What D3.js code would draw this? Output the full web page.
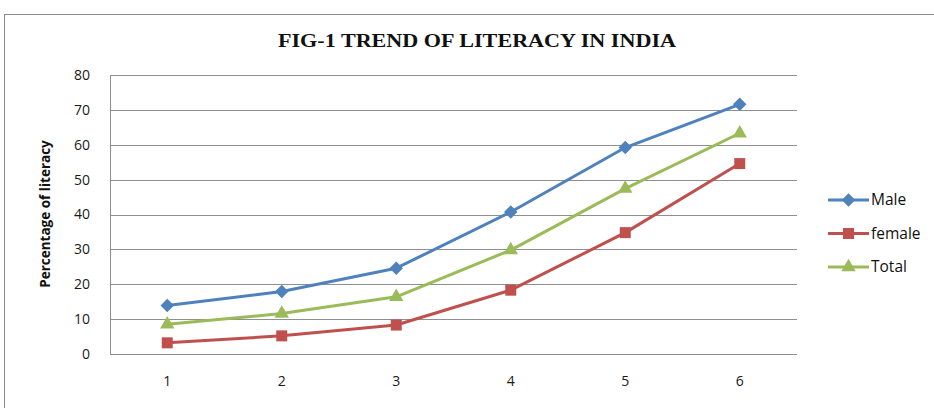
<!DOCTYPE html>
<html>
<head>
<meta charset="utf-8">
<script src="https://d3js.org/d3.v7.min.js"></script>
<style>
  body { margin: 0; background: #fff; }
  svg { display: block; }
</style>
</head>
<body>
<div id="chart"></div>
<script>
const categories = ["1", "2", "3", "4", "5", "6"];
const male = [13.9, 17.9, 24.6, 40.7, 59.2, 71.6];
const female = [3.2, 5.2, 8.3, 18.3, 34.8, 54.6];
const total = [8.5, 11.6, 16.4, 29.8, 47.4, 63.3];
const yTicks = [0, 10, 20, 30, 40, 50, 60, 70, 80];

// excel style diamond: a square turned 45 degrees
const symbolRhomb = {
  draw(ctx, size) {
    const r = Math.sqrt(size / 2);
    ctx.moveTo(0, -r);
    ctx.lineTo(r, 0);
    ctx.lineTo(0, r);
    ctx.lineTo(-r, 0);
    ctx.closePath();
  }
};

const series = [
  { name: "Male", values: male, color: "#4F81BD", marker: symbolRhomb, size: 90 },
  { name: "female", values: female, color: "#C0504D", marker: d3.symbolSquare, size: 121 },
  { name: "Total", values: total, color: "#9BBB59", marker: d3.symbolTriangle, size: 90 }
];

const W = 934, H = 408;
const plot = { left: 110, right: 797, top: 75, bottom: 354 };
const labelFont = "'Open Sans', sans-serif";

const svg = d3.select("#chart").append("svg")
  .attr("width", W)
  .attr("height", H);

svg.append("rect").attr("width", W).attr("height", H).attr("fill", "#fff");

// outer chart frame (runs off the right and bottom)
svg.append("rect")
  .attr("x", 4.5).attr("y", 14.5)
  .attr("width", 1000).attr("height", 1000)
  .attr("fill", "none")
  .attr("stroke", "#8c8c8c")
  .attr("stroke-width", 1);

const x = d3.scaleBand().domain(categories).range([plot.left, plot.right]);
const y = d3.scaleLinear().domain([0, 80]).range([plot.bottom, plot.top]);

// gridlines
svg.append("g")
  .selectAll("line")
  .data(yTicks)
  .join("line")
  .attr("x1", plot.left).attr("x2", plot.right)
  .attr("y1", d => Math.round(y(d)) + 0.5)
  .attr("y2", d => Math.round(y(d)) + 0.5)
  .attr("stroke", "#8f8f8f")
  .attr("stroke-width", 1);

// left axis line
svg.append("line")
  .attr("x1", plot.left + 0.5).attr("x2", plot.left + 0.5)
  .attr("y1", plot.top).attr("y2", plot.bottom)
  .attr("stroke", "#8f8f8f");

// y axis labels
const yAxis = d3.axisLeft(y).tickValues(yTicks).tickSize(0).tickPadding(20);
svg.append("g")
  .attr("transform", `translate(${plot.left},0)`)
  .call(yAxis)
  .call(g => g.select(".domain").remove())
  .selectAll("text")
  .attr("font-family", labelFont)
  .attr("font-size", 14)
  .attr("fill", "#1a1a1a");

// x axis labels
const xAxis = d3.axisBottom(x).tickSize(0).tickPadding(22);
svg.append("g")
  .attr("transform", `translate(0,${plot.bottom})`)
  .call(xAxis)
  .call(g => g.select(".domain").remove())
  .selectAll("text")
  .attr("font-family", labelFont)
  .attr("font-size", 14)
  .attr("fill", "#1a1a1a");

// title
svg.append("text")
  .attr("x", 477).attr("y", 47)
  .attr("text-anchor", "middle")
  .attr("font-family", "'Liberation Serif', 'Times New Roman', serif")
  .attr("font-weight", "bold")
  .attr("font-size", 19)
  .attr("textLength", 398)
  .attr("lengthAdjust", "spacingAndGlyphs")
  .attr("fill", "#111")
  .text("FIG-1 TREND OF LITERACY IN INDIA");

// y axis title
svg.append("text")
  .attr("transform", "translate(50,214) rotate(-90)")
  .attr("text-anchor", "middle")
  .attr("font-family", labelFont)
  .attr("font-weight", "bold")
  .attr("font-size", 13.5)
  .attr("fill", "#111")
  .text("Percentage of literacy");

const line = d3.line()
  .x((d, i) => x(categories[i]) + x.bandwidth() / 2)
  .y(d => y(d));

series.forEach(s => {
  svg.append("path")
    .datum(s.values)
    .attr("d", line)
    .attr("fill", "none")
    .attr("stroke", s.color)
    .attr("stroke-width", 3)
    .attr("stroke-linejoin", "round");

  svg.append("g")
    .selectAll("path")
    .data(s.values)
    .join("path")
    .attr("transform", (d, i) => `translate(${x(categories[i]) + x.bandwidth() / 2},${y(d)})`)
    .attr("d", d3.symbol().type(s.marker).size(s.size))
    .attr("fill", s.color);
});

// legend
const legend = svg.append("g").attr("transform", "translate(828,200)");
series.forEach((s, i) => {
  const g = legend.append("g").attr("transform", `translate(0,${i * 33.5})`);
  g.append("line")
    .attr("x1", 0).attr("x2", 41)
    .attr("stroke", s.color).attr("stroke-width", 3);
  g.append("path")
    .attr("transform", "translate(20.5,0)")
    .attr("d", d3.symbol().type(s.marker).size(s.size))
    .attr("fill", s.color);
  g.append("text")
    .attr("x", 43).attr("y", 0)
    .attr("dy", "0.35em")
    .attr("font-family", labelFont)
    .attr("font-size", 15.5)
    .attr("fill", "#111")
    .text(s.name);
});
</script>
</body>
</html>
